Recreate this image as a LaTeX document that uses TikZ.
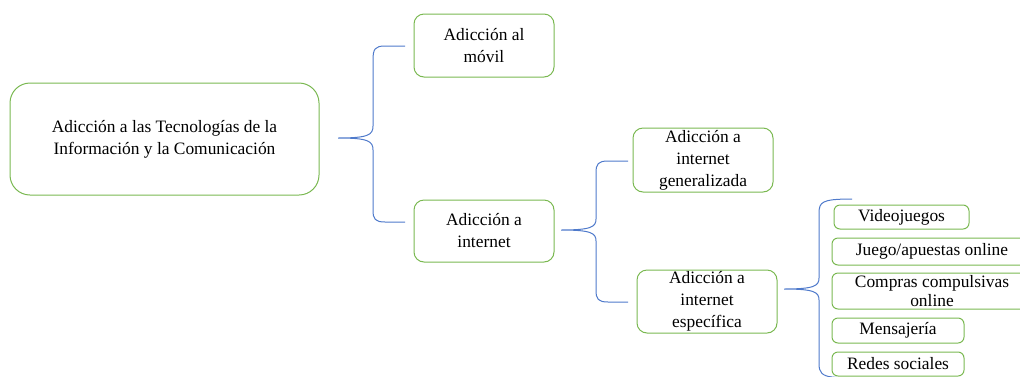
\documentclass[tikz,border=0pt]{standalone}
\usepackage{fontspec}
\setmainfont{Liberation Serif}
\definecolor{boxgreen}{HTML}{7AB851}
\definecolor{braceblue}{HTML}{4F7ACB}
\tikzset{
  tbox/.style={draw=boxgreen, line width=1pt, rounded corners=10pt, align=center, inner sep=0pt,
    font=\fontsize{17.4}{22}\selectfont, text=black},
  sbox/.style={tbox, rounded corners=6pt},
  brace/.style={draw=braceblue, line width=1pt},
}
\begin{document}
\begin{tikzpicture}[x=1pt,y=-1pt]
\useasboundingbox (0,0) rectangle (1020,376);
\begin{scope}
\clip (0,0) rectangle (1020,376);
% boxes
\node[tbox, rounded corners=20pt, minimum width=309pt, minimum height=112pt] (root) at (164.5,139) {Adicción a las Tecnologías de la\\Información y la Comunicación};
\node[tbox, minimum width=140pt, minimum height=63pt] (movil) at (484,45.5) {Adicción al\\móvil};
\node[tbox, minimum width=140pt, minimum height=62pt] (internet) at (484,231) {Adicción a\\internet};
\node[tbox, minimum width=140pt, minimum height=64pt] (general) at (703,160) {Adicción a\\internet\\generalizada};
\node[tbox, minimum width=140pt, minimum height=63pt] (especifica) at (707,301.5) {Adicción a\\internet\\específica};
\node[sbox, minimum width=135pt, minimum height=24pt] (video) at (901.5,217) {Videojuegos};
\node[sbox, minimum width=200pt, minimum height=27pt] (juego) at (932,251.5) {Juego/apuestas online};
\node[sbox, minimum width=200pt, minimum height=36pt, font=\fontsize{17.4}{19.5}\selectfont] (compras) at (932,291) {Compras compulsivas\\online};
\node[sbox, minimum width=132pt, minimum height=25pt] (mensaje) at (898,330.5) {Mensajería};
\node[sbox, minimum width=132pt, minimum height=24pt] (redes) at (898,364) {Redes sociales};

% brace 1
\coordinate (b1tip) at (338,138);
\coordinate (b1top) at (405,46);
\coordinate (b1bot) at (405,222);
\draw[brace] (b1top) -- (385,46) .. controls (375,46) and (373,49) .. (373,60)
  -- (373,126) .. controls (373,135) and (368,138) .. (b1tip)
  .. controls (368,138) and (373,141) .. (373,150)
  -- (373,210) .. controls (373,219) and (375,222) .. (385,222) -- (b1bot);
% brace 2
\coordinate (b2tip) at (561,230);
\coordinate (b2top) at (628,161);
\coordinate (b2bot) at (628,302);
\draw[brace] (b2top) -- (608,161) .. controls (598,161) and (596,164) .. (596,173)
  -- (596,219) .. controls (596,227) and (591,230) .. (b2tip)
  .. controls (591,230) and (596,233) .. (596,241)
  -- (596,290) .. controls (596,299) and (598,302) .. (608,302) -- (b2bot);
% brace 3
\coordinate (b3tip) at (784,289);
\coordinate (b3top) at (852,199);
\coordinate (b3bot) at (852,379);
\draw[brace] (b3top) .. controls (835,199) and (828,200) .. (824,202) .. controls (820,204) and (819,207) .. (819,214)
  -- (819,278) .. controls (819,286) and (814,289) .. (b3tip)
  .. controls (814,289) and (819,292) .. (819,300)
  -- (819,364) .. controls (819,372) and (822,376) .. (832,377) -- (b3bot);
\end{scope}
\end{tikzpicture}
\end{document}
